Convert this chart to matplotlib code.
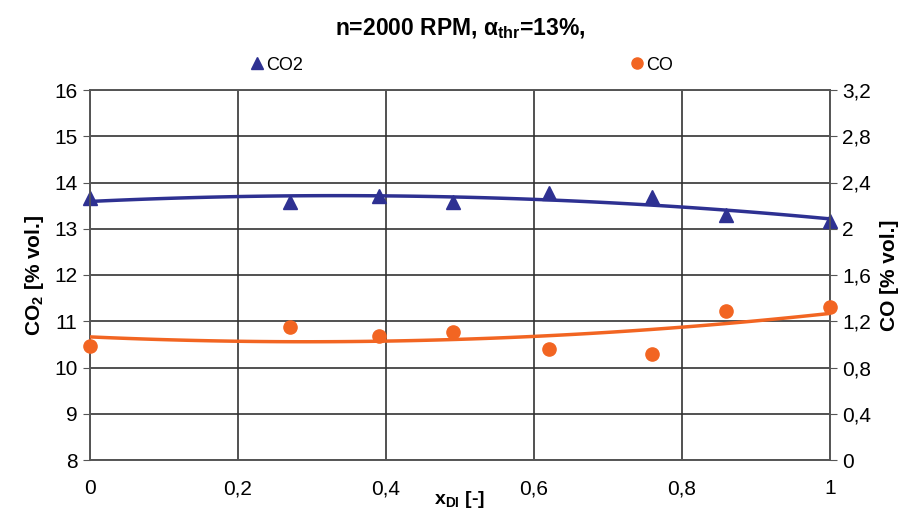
import numpy as np
import matplotlib
matplotlib.use("Agg")
import matplotlib.pyplot as plt
from matplotlib.lines import Line2D
from matplotlib.ticker import FuncFormatter

plt.rcParams['font.family'] = ['Liberation Sans', 'DejaVu Sans']
plt.rcParams['mathtext.fontset'] = 'custom'
plt.rcParams['mathtext.rm'] = 'Liberation Sans'
plt.rcParams['mathtext.bf'] = 'Liberation Sans:bold'

# measured points
x_di = [0.0, 0.27, 0.39, 0.49, 0.62, 0.76, 0.86, 1.0]
co2 = [13.66, 13.58, 13.71, 13.58, 13.77, 13.68, 13.30, 13.17]
co = [0.99, 1.15, 1.07, 1.11, 0.96, 0.92, 1.29, 1.32]

blue = "#2E3192"
orange = "#F26522"

fig = plt.figure(figsize=(9.12, 5.16), dpi=100)
ax = fig.add_axes([90 / 912, 1 - 460 / 516, 740 / 912, 370 / 516])
ax2 = ax.twinx()

# 2nd order trend lines through the points
xs = np.linspace(0, 1, 100)
p_co2 = np.polyfit(x_di, co2, 2)
p_co = np.polyfit(x_di, co, 2)

ax.plot(xs, np.polyval(p_co2, xs), color=blue, lw=2.5, zorder=3)
ax.plot(x_di, co2, ls="none", marker="^", ms=9.5, color=blue, clip_on=False, zorder=4)
ax2.plot(xs, np.polyval(p_co, xs), color=orange, lw=2.5, zorder=3)
ax2.plot(x_di, co, ls="none", marker="o", ms=9.5, color=orange, clip_on=False, zorder=4)

ax.set_xlim(0, 1)
ax.set_ylim(8, 16)
ax2.set_ylim(0, 3.2)
ax.set_xticks(np.arange(0, 1.01, 0.2))
ax.set_yticks(np.arange(8, 16.1, 1))
ax2.set_yticks(np.arange(0, 3.21, 0.4))

comma = FuncFormatter(lambda v, pos: ("%g" % round(v, 2)).replace(".", ","))
ax.xaxis.set_major_formatter(comma)
ax2.yaxis.set_major_formatter(comma)

ax.grid(True, color="#333333", lw=1.2)
for a in (ax, ax2):
    for s in a.spines.values():
        s.set_color("#555555")
        s.set_linewidth(1.2)
ax.tick_params(axis="x", length=0, labelsize=15, pad=14)
ax.tick_params(axis="y", length=5, labelsize=15, pad=4, color="#555555")
ax2.tick_params(axis="y", length=5, labelsize=15, pad=4, color="#555555")

ax.set_xlabel(r"x$_{\mathbf{DI}}$ [-]", fontsize=14, fontweight="bold", labelpad=-7)
ax.set_ylabel(r"CO$_{\mathbf{2}}$ [% vol.]", fontsize=15, fontweight="bold", labelpad=6)
ax2.set_ylabel("CO [% vol.]", fontsize=15, fontweight="bold", labelpad=6)

fig.text(0.505, 0.945, r"n=2000 RPM, α$_{\mathbf{thr}}$=13%,", ha="center", va="center",
         fontsize=16.5, fontweight="bold")

handles = [
    Line2D([], [], ls="none", marker="^", ms=8, color=blue, label="CO2"),
    Line2D([], [], ls="none", marker="o", ms=8, color=orange, label="CO"),
]
fig.legend(handles=handles, loc="center", bbox_to_anchor=(0.505, 0.874), ncol=2,
           frameon=False, fontsize=13, handletextpad=0.0, columnspacing=18,
           handlelength=1.0)

fig.savefig("out.png", dpi=100)
